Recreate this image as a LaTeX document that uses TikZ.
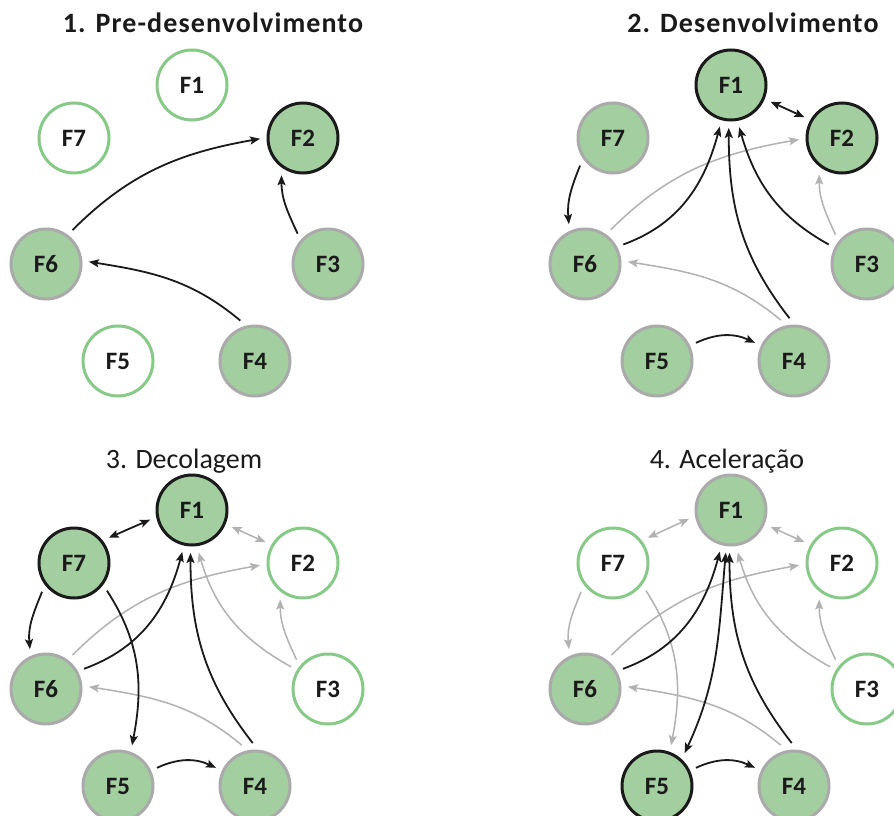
\documentclass[tikz,border=0pt]{standalone}
\usepackage{fontspec}
\setmainfont{Carlito}
\usetikzlibrary{arrows.meta}
\definecolor{fgreen}{RGB}{163,206,160}
\definecolor{fgray}{RGB}{170,170,170}
\definecolor{fline}{RGB}{135,201,135}
\definecolor{agray}{RGB}{178,178,178}
\definecolor{fblack}{RGB}{26,26,26}
\tikzset{
  fnode/.style={circle, minimum size=70pt, inner sep=0pt, line width=3pt, outer sep=8pt,
    font=\bfseries\fontsize{25}{25}\selectfont, text=fblack},
  filled/.style={fnode, fill=fgreen, draw=fgray},
  active/.style={fnode, fill=fgreen, draw=fblack},
  empty/.style={fnode, fill=white, draw=fline},
  tipA/.tip={Stealth[length=10pt,width=8pt,inset=2pt]},
  blk/.style={draw=fblack, line width=1.8pt, -tipA},
  gry/.style={draw=agray, line width=1.5pt, -tipA},
  both/.style={tipA-tipA},
  boldtitle/.style={anchor=base, font=\bfseries\fontsize{28}{30}\selectfont\addfontfeature{LetterSpace=4}, text=fblack},
  plaintitle/.style={anchor=base, font=\fontsize{28}{30}\selectfont, text=fblack}
}
\newcommand\placeFnodes[8]{%
  \node[#2] (#1f1) at (192,-85) {F1};
  \node[#3] (#1f2) at (303,-138) {F2};
  \node[#4] (#1f3) at (328,-264) {F3};
  \node[#5] (#1f4) at (255,-361) {F4};
  \node[#6] (#1f5) at (118,-361) {F5};
  \node[#7] (#1f6) at (46,-264) {F6};
  \node[#8] (#1f7) at (74,-138) {F7};
}
\begin{document}
\begin{tikzpicture}[x=1pt,y=1pt]
\useasboundingbox (0,0) rectangle (894,-816);
\clip (0,0) rectangle (894,-816);
\fill[white] (0,0) rectangle (894,-816);

% titles
\node[boldtitle] (t1) at (213,-33) {1. Pre-desenvolvimento};
\node[boldtitle] (t2) at (753,-33) {2. Desenvolvimento};
\node[plaintitle] (t3) at (184,-468) {3. Decolagem};
\node[plaintitle] (t4) at (727,-468) {4. Aceleração};

% panel 1
\begin{scope}
  \placeFnodes{A}{empty}{active}{filled}{filled}{empty}{filled}{empty}
\end{scope}
\draw[blk] (Af6.52) to[out=45,in=190] (Af2.181);
\draw[blk] (Af3.135) to[out=115,in=270] (Af2.240);
\draw[blk] (Af4.110) to[out=140,in=-9] (Af6.3);

% panel 2
\begin{scope}[shift={(539,0)}]
  \placeFnodes{B}{active}{active}{filled}{filled}{filled}{filled}{filled}
\end{scope}
\draw[gry] (Bf6.53) to[out=45,in=190] (Bf2.182);
\draw[gry] (Bf3.137) to[out=115,in=270] (Bf2.238);
\draw[gry] (Bf4.108) to[out=140,in=-9] (Bf6.3);
\draw[blk,both] (Bf1.337) -- (Bf2.151);
\draw[blk] (Bf7.220) to[out=248,in=95] (Bf6.112);
\draw[blk] (Bf6.27) to[out=20,in=255] (Bf1.255);
\draw[blk] (Bf4.96) to[out=128,in=270] (Bf1.267);
\draw[blk] (Bf3.153) to[out=151,in=286] (Bf1.281);
\draw[blk] (Bf5.25) to[out=25,in=155] (Bf4.155);

% panel 3
\begin{scope}[shift={(0,-425)}]
  \placeFnodes{C}{active}{empty}{empty}{filled}{filled}{filled}{active}
\end{scope}
\draw[gry,both] (Cf1.337) -- (Cf2.151);
\draw[gry] (Cf6.52) to[out=45,in=190] (Cf2.183);
\draw[gry] (Cf3.149) to[out=151,in=286] (Cf1.279);
\draw[gry] (Cf3.137) to[out=115,in=270] (Cf2.238);
\draw[gry] (Cf4.108) to[out=140,in=-9] (Cf6.3);
\draw[blk,both] (Cf7.36) -- (Cf1.193);
\draw[blk] (Cf7.222) to[out=248,in=95] (Cf6.112);
\draw[blk] (Cf7.320) to[out=303,in=79] (Cf5.71);
\draw[blk] (Cf6.28) to[out=20,in=255] (Cf1.257);
\draw[blk] (Cf4.93) to[out=128,in=270] (Cf1.268);
\draw[blk] (Cf5.25) to[out=25,in=155] (Cf4.155);

% panel 4
\begin{scope}[shift={(539,-425)}]
  \placeFnodes{D}{filled}{empty}{empty}{filled}{active}{filled}{empty}
\end{scope}
\draw[gry,both] (Df7.36) -- (Df1.192);
\draw[gry,both] (Df1.337) -- (Df2.151);
\draw[gry] (Df7.222) to[out=248,in=95] (Df6.112);
\draw[gry] (Df7.320) to[out=303,in=79] (Df5.71);
\draw[gry] (Df6.52) to[out=45,in=190] (Df2.183);
\draw[gry] (Df3.149) to[out=151,in=286] (Df1.279);
\draw[gry] (Df3.137) to[out=115,in=270] (Df2.238);
\draw[gry] (Df4.108) to[out=140,in=-9] (Df6.3);
\draw[blk] (Df6.28) to[out=20,in=255] (Df1.255);
\draw[blk,both] (Df1.263) to[out=265,in=65] (Df5.50);
\draw[blk] (Df4.93) to[out=128,in=270] (Df1.268);
\draw[blk] (Df5.25) to[out=25,in=155] (Df4.155);
\end{tikzpicture}
\end{document}
